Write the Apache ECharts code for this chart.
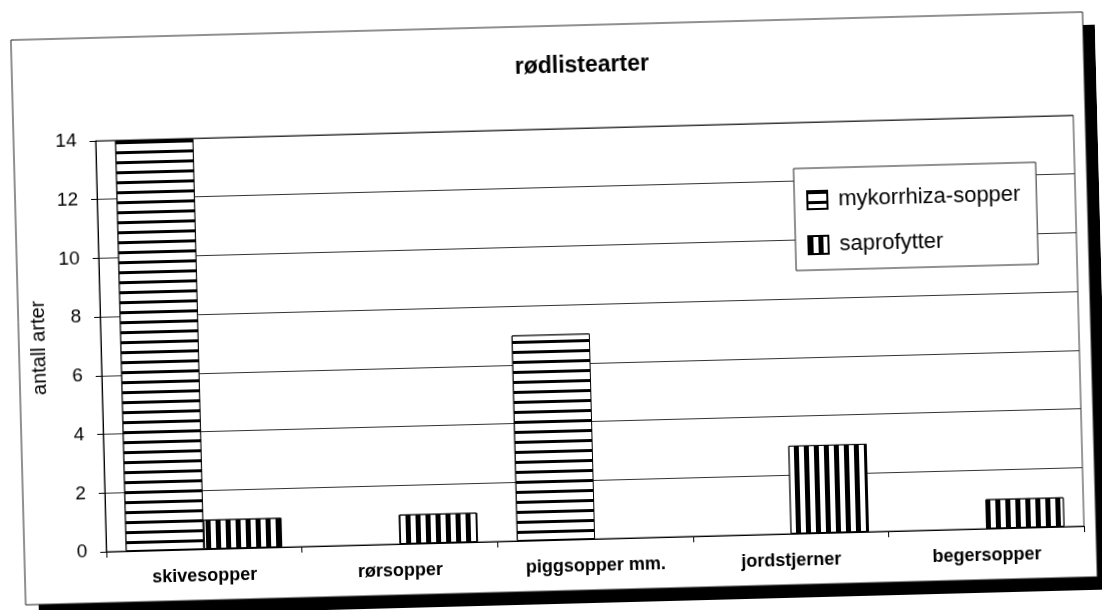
<!DOCTYPE html>
<html>
<head>
<meta charset="utf-8">
<script src="https://cdn.jsdelivr.net/npm/echarts@6/dist/echarts.min.js"></script>
<style>
  html, body { margin: 0; padding: 0; background: #fff; overflow: hidden; }
  /* the scanned original sits slightly crooked on the page */
  #chart { width: 1102px; height: 610px; transform: rotate(-1.5deg); transform-origin: 551px 305px; }
</style>
</head>
<body>
<div id="chart"></div>
<script>
const categories = ['skivesopper', 'rørsopper', 'piggsopper mm.', 'jordstjerner', 'begersopper'];
const mykorrhiza = [14, 0, 7, 0, 0];
const saprofytter = [1, 1, 0, 3, 1];
const seriesNames = ['mykorrhiza-sopper', 'saprofytter'];

const font = "'Liberation Sans', Arial, sans-serif";

const chart = echarts.init(document.getElementById('chart'));

// hatch fills like the old b/w excel chart
const horizontalLines = {
  symbol: 'rect', symbolSize: 1, color: '#000', backgroundColor: '#fff',
  dashArrayX: [1, 0], dashArrayY: [3, 7], rotation: 0
};
const verticalLines = {
  symbol: 'rect', symbolSize: 1, color: '#000', backgroundColor: '#fff',
  dashArrayX: [5, 5], dashArrayY: [1, 0], rotation: 0
};

// empty bars should not leave a line on the axis
const noZero = arr => arr.map(v => (v === 0 ? null : v));

const frame = { x: 18, y: 26, width: 1072, height: 565 };

const option = {
  animation: false,
  backgroundColor: 'transparent',
  graphic: [
    {
      // black drop shadow behind the chart box
      type: 'rect',
      z: -20,
      silent: true,
      shape: { x: frame.x + 13, y: frame.y + 13, width: frame.width, height: frame.height },
      style: { fill: '#000' }
    },
    {
      type: 'rect',
      z: -10,
      silent: true,
      shape: frame,
      style: { fill: '#fff', stroke: '#222', lineWidth: 1 }
    }
  ],
  title: {
    text: 'rødlistearter',
    left: 521,
    top: 55,
    padding: 0,
    textStyle: { fontFamily: font, fontSize: 23, fontWeight: 'bold', color: '#000' }
  },
  legend: {
    orient: 'vertical',
    left: 797,
    top: 175,
    padding: [21, 16, 14, 12],
    itemGap: 23,
    itemWidth: 20,
    itemHeight: 18,
    icon: 'rect',
    backgroundColor: '#fff',
    borderColor: '#222',
    borderWidth: 1,
    textStyle: {
      fontFamily: font, fontSize: 22, lineHeight: 22, color: '#000',
      padding: [0, 0, 0, 6]
    },
    data: seriesNames
  },
  grid: {
    left: 100,
    right: 24,
    top: 129,
    bottom: 70,
    show: true,
    borderColor: '#333',
    borderWidth: 1,
    containLabel: false
  },
  xAxis: {
    type: 'category',
    data: categories,
    axisLine: { lineStyle: { color: '#000', width: 1 } },
    axisTick: { show: true, length: 6, lineStyle: { color: '#000' } },
    axisLabel: {
      margin: 18,
      fontFamily: font, fontSize: 18, fontWeight: 'bold', color: '#000'
    }
  },
  yAxis: {
    type: 'value',
    min: 0,
    max: 14,
    interval: 2,
    name: 'antall arter',
    nameLocation: 'middle',
    nameGap: 48,
    nameTextStyle: { fontFamily: font, fontSize: 20, color: '#000' },
    axisLine: { show: true, lineStyle: { color: '#000', width: 1 } },
    axisTick: { show: true, length: 6, lineStyle: { color: '#000' } },
    axisLabel: { margin: 19, fontFamily: font, fontSize: 19, color: '#000' },
    splitLine: { lineStyle: { color: '#333', width: 1 } }
  },
  series: [
    {
      name: seriesNames[0],
      type: 'bar',
      data: noZero(mykorrhiza),
      barGap: '0%',
      barCategoryGap: '20%',
      itemStyle: { color: '#fff', borderColor: '#000', borderWidth: 1, decal: horizontalLines }
    },
    {
      name: seriesNames[1],
      type: 'bar',
      data: noZero(saprofytter),
      itemStyle: { color: '#fff', borderColor: '#000', borderWidth: 1, decal: verticalLines }
    }
  ]
};

chart.setOption(option);
</script>
</body>
</html>
